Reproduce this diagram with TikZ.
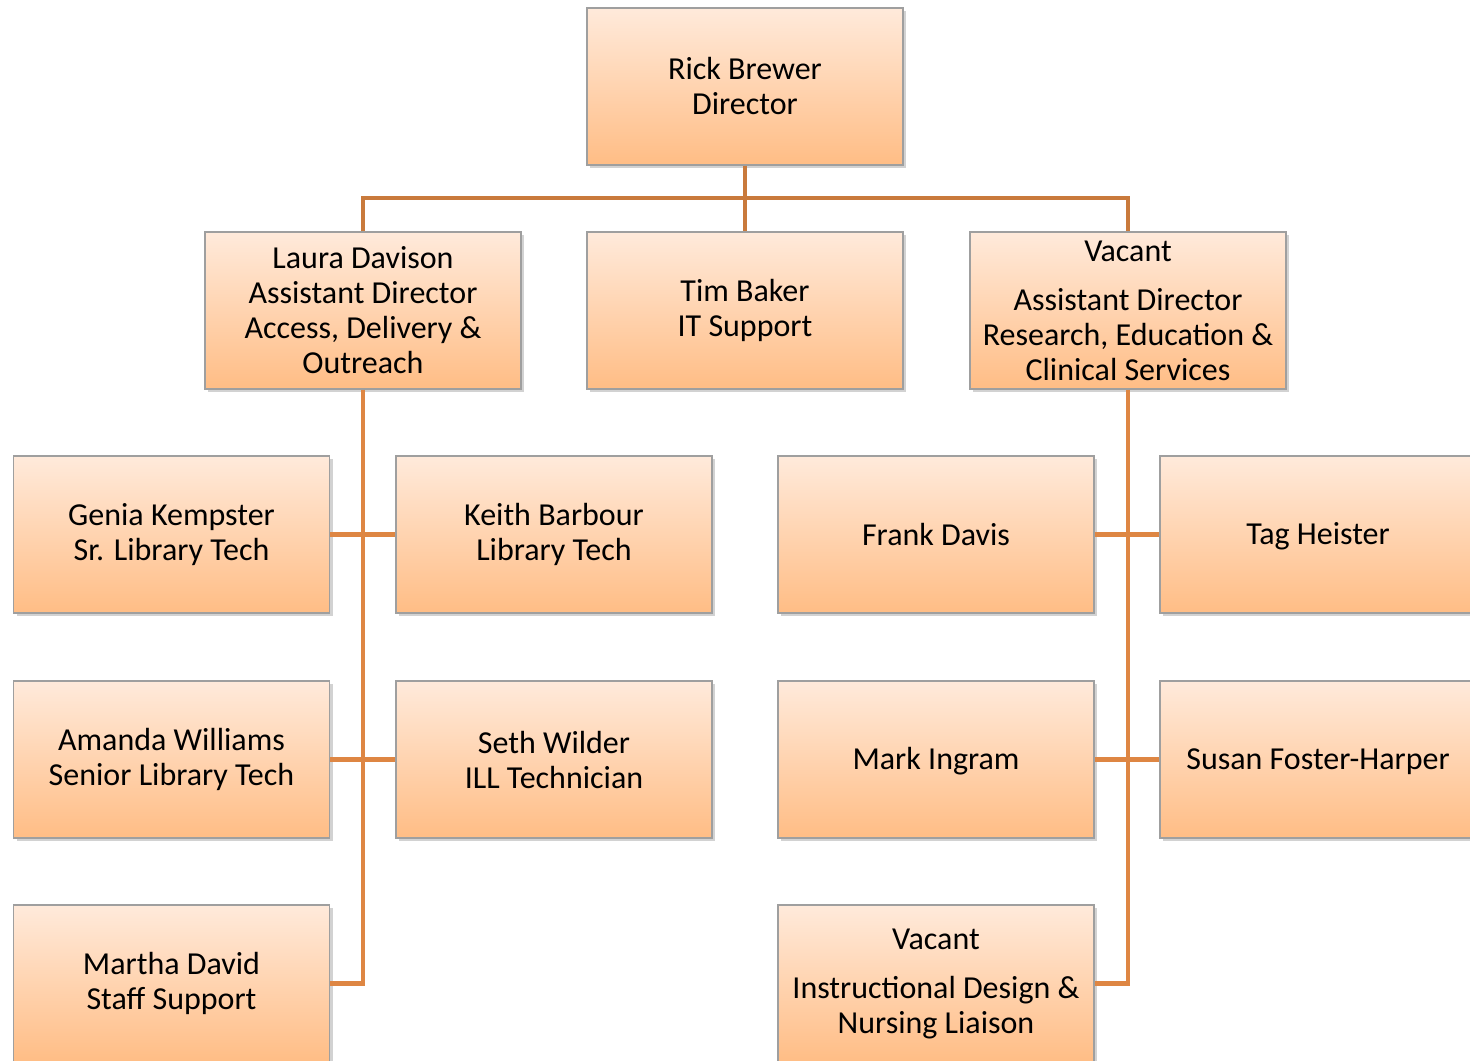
\documentclass[tikz,border=0pt]{standalone}
\usepackage{fontspec}
\setmainfont{Carlito}
\usetikzlibrary{shadows}
\definecolor{peachtop}{HTML}{FFEADB}
\definecolor{peachbot}{HTML}{FFBD85}
\definecolor{linktop}{HTML}{C97A3C}
\definecolor{linkbot}{HTML}{DE8643}
\newcommand{\lowtxt}[1]{\raisebox{-1pt}[\height][\depth]{#1}}
\tikzset{
  staffbox/.style={rectangle, draw=gray!75, line width=0.6pt,
    top color=peachtop, bottom color=peachbot,
    minimum width=158pt, minimum height=78.5pt, inner sep=0pt, align=center,
    font=\fontsize{16}{17.5}\selectfont,
    drop shadow={shadow xshift=1.6pt, shadow yshift=-1.6pt, opacity=0.35}},
  toplink/.style={draw=linktop, line width=2.1pt},
  sublink/.style={draw=linkbot, line width=2.1pt}
}
\begin{document}
\begin{tikzpicture}[x=0.5pt,y=-0.5pt]
  \useasboundingbox (0,0) rectangle (1470,1060);
  \fill[white] (0,0) rectangle (1470,1060);
  % links first, boxes on top
  \coordinate (bar) at (745,198);
  \node[staffbox] (director) at (745,86.5) {Rick Brewer\\Director};
  \node[staffbox] (laura) at (363,310.5) {Laura Davison\\Assistant Director\\Access, Delivery \&\\Outreach};
  \node[staffbox] (timbaker) at (745,310.5) {Tim Baker\\IT Support};
  \node[staffbox] (vacantrs) at (1128,310.5) {Vacant\\[7pt]Assistant Director\\Research, Education \&\\Clinical Services};
  \draw[toplink] (director.south) -- (timbaker.north);
  \draw[toplink] (laura.north) |- (bar) -| (vacantrs.north);
  % left branch
  \foreach \name/\xx/\yy/\txt in {genia/171.5/534.5/{Genia Kempster\\Sr. Library Tech},
      keith/554/534.5/{Keith Barbour\\Library Tech},
      amanda/171.5/759.5/{Amanda Williams\\Senior Library Tech},
      seth/554/759.5/{Seth Wilder\\ILL Technician},
      martha/171.5/983.5/{Martha David\\Staff Support}}
    \node[staffbox] (\name) at (\xx,\yy) {\txt};
  \draw[sublink] (laura.south) |- (martha.east);
  \draw[sublink] (genia.east) -- (keith.west);
  \draw[sublink] (amanda.east) -- (seth.west);
  % right branch
  \foreach \name/\xx/\yy/\txt in {frank/936/534.5/{Frank Davis},
      tag/1318/534.5/{\lowtxt{Tag Heister}},
      mark/936/759.5/{\lowtxt{Mark Ingram}},
      susan/1318/759.5/{\lowtxt{Susan Foster-Harper}},
      vacantid/936/983.5/{Vacant\\[7pt]Instructional Design \&\\Nursing Liaison}}
    \node[staffbox] (\name) at (\xx,\yy) {\txt};
  \draw[sublink] (vacantrs.south) |- (vacantid.east);
  \draw[sublink] (frank.east) -- (tag.west);
  \draw[sublink] (mark.east) -- (susan.west);
\end{tikzpicture}
\end{document}
